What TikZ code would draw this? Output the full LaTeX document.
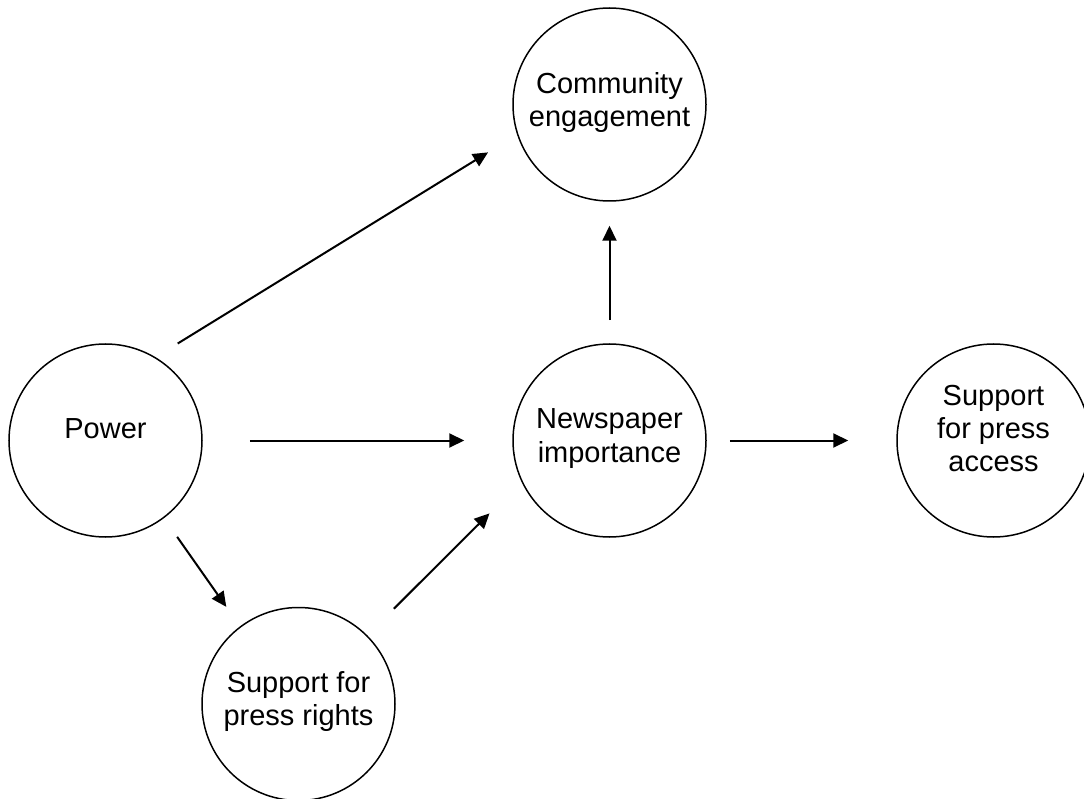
\documentclass[tikz,border=0pt]{standalone}
\usepackage{fontspec}
\setmainfont{Liberation Sans}
\usetikzlibrary{arrows.meta}

\begin{document}
\begin{tikzpicture}[x=1pt, y=-1pt,
  concept/.style={draw=black, line width=1.5pt, circle, minimum size=193pt, inner sep=0pt},
  caption/.style={align=center, inner sep=0pt, font=\fontsize{29}{33.3}\selectfont},
  link/.style={draw=black, line width=2pt, -{Triangle[length=15pt, width=14pt]}}
]
  % page frame
  \useasboundingbox (0,0) rectangle (1084,799);

  % concepts
  \node[concept] (power)  at (105.5,440.5) {};
  \node[concept] (comm)   at (609.5,104.5) {};
  \node[concept] (news)   at (609.5,440.5) {};
  \node[concept] (access) at (993.5,440.5) {};
  \node[concept] (rights) at (298.5,704)   {};

  % captions
  \node[caption] (powerT)  at ([yshift=12pt]power.center)  {Power};
  \node[caption] (commT)   at ([yshift=2pt]comm.center)    {Community\\engagement};
  \node[caption] (newsT)   at ([yshift=2pt]news.center)    {Newspaper\\importance};
  \node[caption] (accessT) at ([yshift=12pt]access.center) {Support\\for press\\access};
  \node[caption] (rightsT) at ([yshift=2.5pt]rights.center) {Support for\\press rights};

  % paths
  \draw[link, shorten <=26pt, shorten >=34pt] (power.59.2) -- (comm.198.6);
  \draw[link, shorten <=47pt, shorten >=48pt] (power.east) -- (news.west);
  \draw[link, shorten <=23pt, shorten >=24pt] (news.north) -- (comm.south);
  \draw[link, shorten <=23pt, shorten >=48pt] (news.east) -- (access.west);
  \draw[link, shorten <=22.8pt, shorten >=23.8pt] (power.307.5) -- (rights.127.8);
  \draw[link, shorten <=37.5pt, shorten >=45pt] (rights.45.3) -- (news.205);
\end{tikzpicture}
\end{document}
